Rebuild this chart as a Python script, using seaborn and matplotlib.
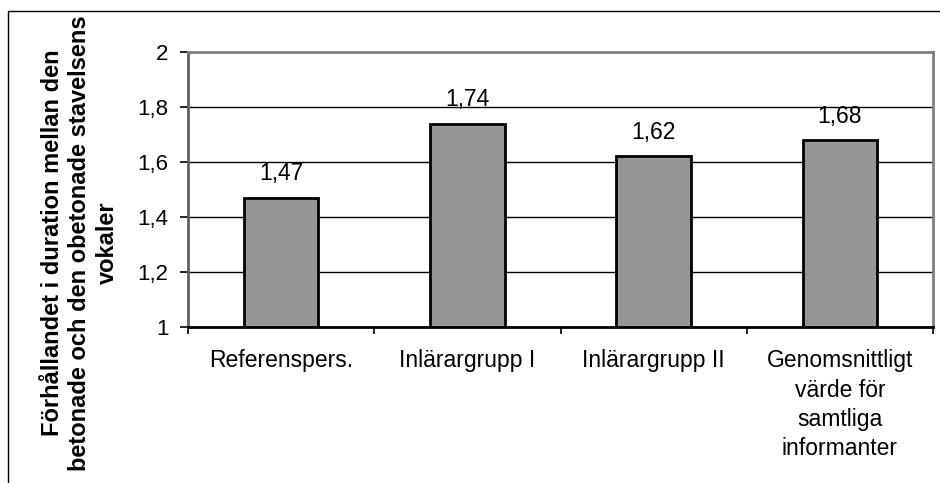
import matplotlib
matplotlib.use("Agg")
import matplotlib.pyplot as plt
from matplotlib.patches import Rectangle
from matplotlib.ticker import FuncFormatter, FixedLocator
import seaborn as sns
import pandas as pd

# Data
categories = [
    "Referenspers.",
    "Inlärargrupp I",
    "Inlärargrupp II",
    "Genomsnittligt\nvärde för\nsamtliga\ninformanter",
]
values = [1.47, 1.74, 1.62, 1.68]
y_ticks = [1.0, 1.2, 1.4, 1.6, 1.8, 2.0]
y_label = ("Förhållandet i duration mellan den\n"
           "betonade och den obetonade stavelsens\n"
           "vokaler")

df = pd.DataFrame({"kategori": categories, "varde": values})

sns.set_theme(style="white")
plt.rcParams["font.family"] = ["Liberation Sans", "DejaVu Sans"]

W, H = 940, 483
fig = plt.figure(figsize=(W / 100, H / 100), dpi=100)
fig.patch.set_facecolor("white")

# Outer frame (left and top edges visible)
fig.patches.append(Rectangle((8 / W, -0.2), 1.2, 1 - 11 / H + 0.2,
                             transform=fig.transFigure, fill=False,
                             edgecolor="black", linewidth=1.0, zorder=0))

ax = fig.add_axes([188 / W, 1 - 327 / H, (933 - 188) / W, (327 - 52) / H])
ax.set_facecolor("white")

sns.barplot(data=df, x="kategori", y="varde", ax=ax, color="#969696",
            edgecolor="black", linewidth=2.0, width=0.4, saturation=1,
            zorder=3)

ax.set_ylim(1, 2)
ax.set_xlim(-0.5, len(categories) - 0.5)
ax.yaxis.set_major_locator(FixedLocator(y_ticks))
ax.yaxis.set_major_formatter(
    FuncFormatter(lambda v, _: f"{v:g}".replace(".", ",")))
ax.grid(axis="y", color="black", linewidth=1.0, zorder=1)
ax.set_axisbelow(True)

# Spines
for side in ("top", "right", "left"):
    ax.spines[side].set_color("#808080")
    ax.spines[side].set_linewidth(2.0)
ax.spines["left"].set_color("#606060")
ax.spines["bottom"].set_color("black")
ax.spines["bottom"].set_linewidth(2.0)
ax.spines["bottom"].set_zorder(4)

ax.tick_params(axis="y", which="major", left=True, length=6, width=1.2,
               color="black", pad=8, labelsize=16, labelcolor="black")
ax.tick_params(axis="x", which="major", bottom=False, length=0, pad=16,
               labelsize=16.5, labelcolor="black")
ax.set_xticks(range(len(categories)))
ax.set_xticklabels(categories, linespacing=1.35)
ax.xaxis.set_minor_locator(FixedLocator([i - 0.5 for i in range(len(categories) + 1)]))
ax.tick_params(axis="x", which="minor", bottom=True, length=5, width=1.2,
               color="black")

ax.set_xlabel("")
ax.set_ylabel("")

# Value labels above bars
for i, v in enumerate(values):
    ax.annotate(f"{v:.2f}".replace(".", ","), xy=(i, v),
                xytext=(0, 12.5), textcoords="offset points",
                ha="center", va="baseline", fontsize=16.5, color="black",
                zorder=5)

fig.text(80 / W, 1 - 243 / H, y_label, rotation=90, ha="center",
         va="center", multialignment="center", fontsize=17,
         fontweight="bold", linespacing=1.25, color="black")

fig.savefig("out.png", dpi=100, facecolor="white")
